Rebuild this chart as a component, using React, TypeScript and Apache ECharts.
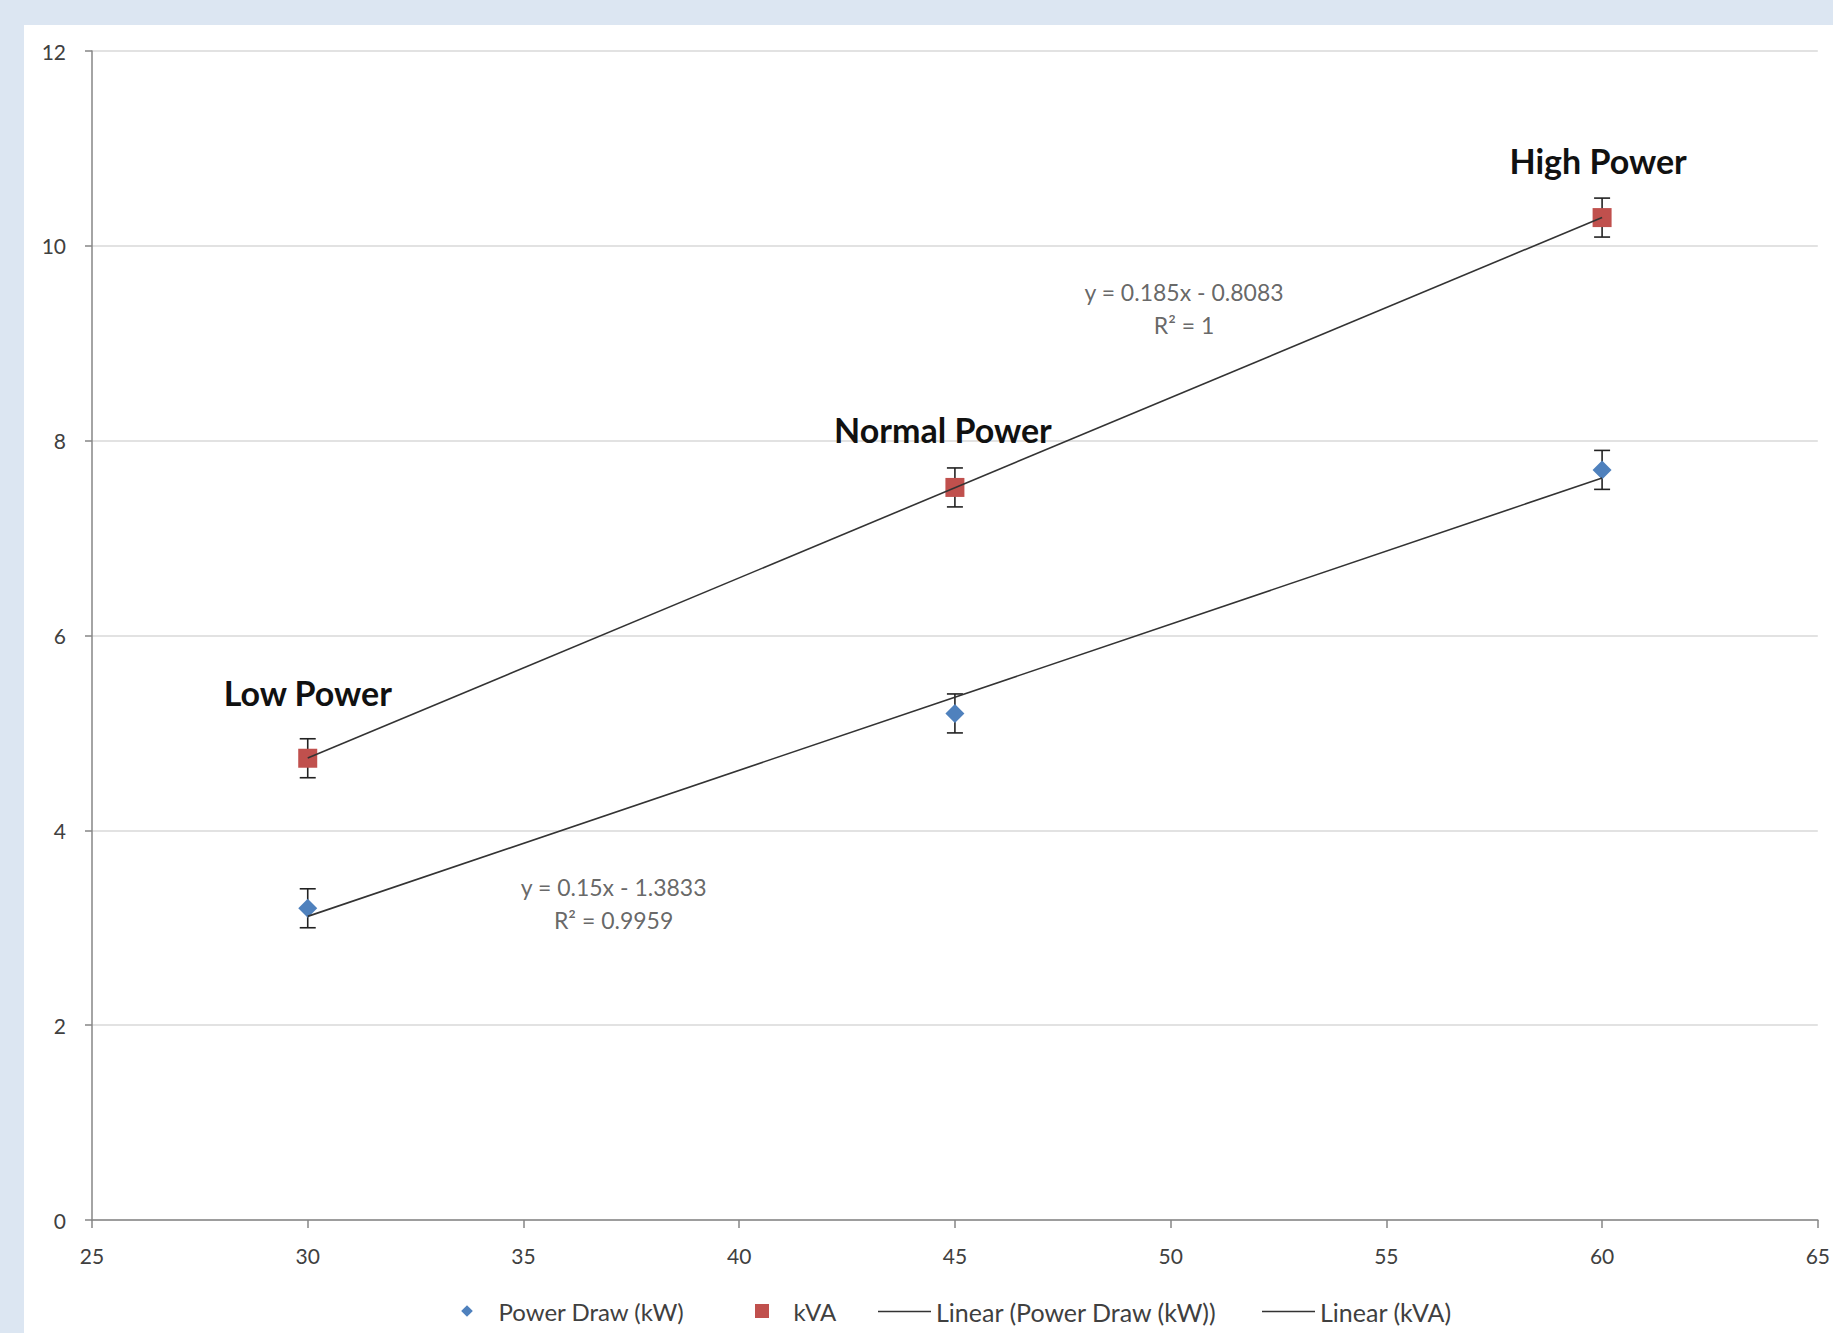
import React, { useEffect, useRef } from "react";
import * as echarts from "echarts";

// ---- data ----
const xValues = [30, 45, 60];
const powerDraw = [3.2, 5.2, 7.7];
const kva = [4.74, 7.52, 10.29];
const powerDrawErr = [0.2, 0.2, 0.2];
const kvaErr = [0.2, 0.2, 0.2];
const levelLabels = ["Low Power", "Normal Power", "High Power"];
// trendline coefficients [slope, intercept] as displayed
const powerTrend = [0.15, -1.3833];
const kvaTrend = [0.185, -0.8083];
const powerEquation = ["y = 0.15x - 1.3833", "R\u00b2 = 0.9959"];
const kvaEquation = ["y = 0.185x - 0.8083", "R\u00b2 = 1"];
const xTickMin = 25;
const xTickMax = 65;
const xTickStep = 5;
const yTickMin = 0;
const yTickMax = 12;
const yTickStep = 2;
const seriesNames = ["Power Draw (kW)", "kVA", "Linear (Power Draw (kW))", "Linear (kVA)"];

// ---- layout constants ----
const powerEqAnchor = [37.09, 3.25];
const kvaEqAnchor = [50.31, 9.36];
const levelLabelOffsets = [
  [0, -8],
  [-12, 0],
  [-4, 0],
];
const legendLefts = [431, 726, 849, 1233];
const legendFontSizes = [24, 24, 25, 25];

const FONT = "Lato, 'Open Sans', sans-serif";
const BLUE = "#4f81bd";
const RED = "#c0504d";
const LINE = "#333333";

function trendPoints(coef: number[]) {
  const x0 = Math.min(...xValues);
  const x1 = Math.max(...xValues);
  return [
    [x0, coef[0] * x0 + coef[1]],
    [x1, coef[0] * x1 + coef[1]],
  ];
}

function errorRenderItem(params: any, api: any) {
  const x = api.value(0);
  const y = api.value(1);
  const e = api.value(2);
  const top = api.coord([x, y + e]);
  const bot = api.coord([x, y - e]);
  const cap = 8;
  const style = { stroke: "#222", lineWidth: 1.6 };
  return {
    type: "group",
    children: [
      { type: "line", shape: { x1: top[0], y1: top[1], x2: bot[0], y2: bot[1] }, style },
      { type: "line", shape: { x1: top[0] - cap, y1: top[1], x2: top[0] + cap, y2: top[1] }, style },
      { type: "line", shape: { x1: bot[0] - cap, y1: bot[1], x2: bot[0] + cap, y2: bot[1] }, style },
    ],
  };
}

export default function App() {
  const ref = useRef<HTMLDivElement>(null);
  useEffect(() => {
    if (!ref.current) return;
    const chart = echarts.init(ref.current, undefined, { renderer: "svg" });
    const lineIcon = "path://M0,0L53,0L53,1.6L0,1.6Z";
    const legendIcons = [
      "path://M-1.2,-1.2M1.2,1.2M0,-1L1,0L0,1L-1,0Z",
      "path://M0,0L1,0L1,1L0,1Z",
      lineIcon,
      lineIcon,
    ];
    const legends = seriesNames.map((name, i) => ({
      left: legendLefts[i],
      top: 1269,
      itemWidth: 53,
      itemHeight: 14,
      textStyle: { fontFamily: FONT, fontSize: legendFontSizes[i], color: "#404040" },
      data: [{ name, icon: legendIcons[i] }],
    }));
    const option: any = {
      animation: false,
      backgroundColor: "#ffffff",
      textStyle: { fontFamily: FONT },
      grid: { left: 68, top: 26, right: 14, bottom: 113, containLabel: false },
      legend: legends,
      xAxis: {
        type: "value",
        min: xTickMin,
        max: xTickMax,
        interval: xTickStep,
        axisLine: { show: true, onZero: false, lineStyle: { color: "#868686", width: 1.5 } },
        axisTick: { show: true, length: 8, lineStyle: { color: "#868686", width: 1.5 } },
        splitLine: { show: false },
        axisLabel: { margin: 25, fontSize: 21, color: "#404040", fontFamily: FONT },
      },
      yAxis: {
        type: "value",
        min: yTickMin,
        max: yTickMax,
        interval: yTickStep,
        axisLine: { show: true, lineStyle: { color: "#868686", width: 1.5 } },
        axisTick: { show: true, length: 7, lineStyle: { color: "#868686", width: 1.5 } },
        splitLine: { show: true, lineStyle: { color: "#d9d9d9", width: 1.5 } },
        axisLabel: { margin: 26, fontSize: 21, color: "#404040", fontFamily: FONT },
      },
      series: [
        {
          type: "custom",
          name: "errPower",
          renderItem: errorRenderItem,
          data: xValues.map((x, i) => [x, powerDraw[i], powerDrawErr[i]]),
          encode: { x: 0, y: 1 },
          z: 1,
          silent: true,
        },
        {
          type: "custom",
          name: "errKva",
          renderItem: errorRenderItem,
          data: xValues.map((x, i) => [x, kva[i], kvaErr[i]]),
          encode: { x: 0, y: 1 },
          z: 1,
          silent: true,
        },
        {
          type: "scatter",
          name: seriesNames[0],
          symbol: "diamond",
          symbolSize: 19,
          itemStyle: { color: BLUE, opacity: 1 },
          data: xValues.map((x, i) => [x, powerDraw[i]]),
          z: 2,
        },
        {
          type: "scatter",
          name: seriesNames[1],
          symbol: "rect",
          symbolSize: 19,
          itemStyle: { color: RED, opacity: 1 },
          data: xValues.map((x, i) => ({
            value: [x, kva[i]],
            label: { offset: levelLabelOffsets[i] },
          })),
          label: {
            show: true,
            position: "top",
            distance: 31,
            fontSize: 34,
            fontWeight: "bold",
            color: "#111",
            fontFamily: FONT,
            formatter: (p: any) => levelLabels[p.dataIndex],
          },
          z: 2,
        },
        {
          type: "line",
          name: seriesNames[2],
          symbol: "none",
          showSymbol: false,
          lineStyle: { color: LINE, width: 1.6 },
          itemStyle: { color: LINE },
          data: trendPoints(powerTrend),
          z: 3,
        },
        {
          type: "line",
          name: seriesNames[3],
          symbol: "none",
          showSymbol: false,
          lineStyle: { color: LINE, width: 1.6 },
          itemStyle: { color: LINE },
          data: trendPoints(kvaTrend),
          z: 3,
        },
        {
          type: "scatter",
          name: "eqPower",
          symbolSize: 0,
          silent: true,
          data: [powerEqAnchor],
          label: {
            show: true,
            position: "inside",
            fontSize: 23,
            lineHeight: 33,
            color: "#404040",
            fontFamily: FONT,
            formatter: () => powerEquation.join("\n"),
          },
        },
        {
          type: "scatter",
          name: "eqKva",
          symbolSize: 0,
          silent: true,
          data: [kvaEqAnchor],
          label: {
            show: true,
            position: "inside",
            fontSize: 23,
            lineHeight: 33,
            color: "#404040",
            fontFamily: FONT,
            formatter: () => kvaEquation.join("\n"),
          },
        },
      ],
    };
    chart.setOption(option);
    return () => chart.dispose();
  }, []);

  return (
    <div style={{ position: "fixed", left: 0, top: 0, width: 1833, height: 1333, background: "#dce6f2" }}>
      <div
        ref={ref}
        style={{ position: "absolute", left: 24, top: 25, width: 1809, height: 1308, background: "#ffffff" }}
      />
    </div>
  );
}
